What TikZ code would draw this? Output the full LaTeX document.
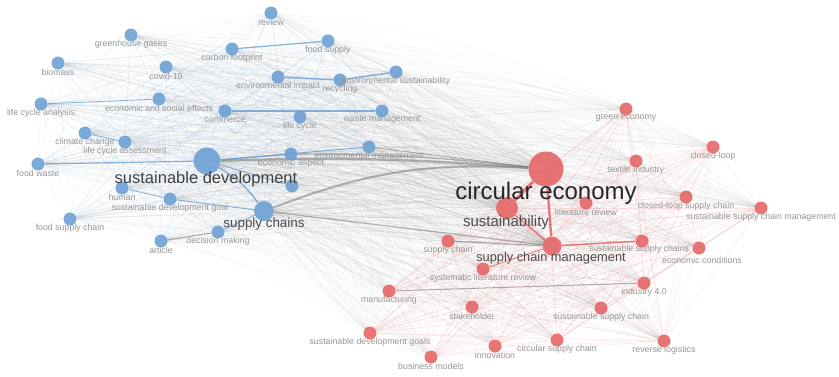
\documentclass[tikz,border=0pt]{standalone}
\usepackage{fontspec}
\setmainfont{Liberation Sans}
\usetikzlibrary{backgrounds}
\definecolor{bnode}{RGB}{100,155,210}
\definecolor{rnode}{RGB}{228,92,94}
\definecolor{lblc}{RGB}{150,150,150}
\definecolor{bedge}{RGB}{120,170,220}
\definecolor{redge}{RGB}{235,115,118}
\definecolor{gedge}{RGB}{120,120,120}
\pgfdeclarelayer{fg}
\pgfdeclarelayer{bottom}
\pgfsetlayers{bottom,background,main,fg}
\tikzset{
  bn/.style={circle,fill=bnode,fill opacity=0.85,draw=none,minimum size=13pt,inner sep=0pt},
  rn/.style={circle,fill=rnode,fill opacity=0.85,draw=none,minimum size=13pt,inner sep=0pt},
  lbl/.style={font=\fontsize{8.8}{10}\selectfont,text=lblc,inner sep=0pt},
  biglbl/.style={inner sep=0pt,text=#1},
  be/.style={draw=bedge,opacity=0.14,line width=0.4pt},
  re/.style={draw=redge,opacity=0.18,line width=0.4pt},
  xe/.style={draw=gedge,opacity=0.055,line width=0.4pt},
  xs/.style={draw=gedge,opacity=0.12,line width=0.6pt},
  thb/.style={draw=bnode,opacity=0.75},
  thr/.style={draw=rnode,opacity=0.8},
  thg/.style={draw=gedge,opacity=0.55},
}
\newcommand\kwb[4]{\node[bn] (#1) at (#2,#3) {};
  \begin{pgfonlayer}{fg}\node[lbl] (#1-l) at (#2,#3+9) {#4};\end{pgfonlayer}}
\newcommand\kwr[4]{\node[rn] (#1) at (#2,#3) {};
  \begin{pgfonlayer}{fg}\node[lbl] (#1-l) at (#2,#3+9) {#4};\end{pgfonlayer}}
\begin{document}
\begin{tikzpicture}[x=1pt,y=-1pt]
\begin{pgfonlayer}{bottom}
\fill[white] (0,0) rectangle (839,376);
\end{pgfonlayer}
\useasboundingbox (0,0) rectangle (839,376);
% ---------- blue cluster ----------
\kwb{review}{271}{13}{review}
\kwb{ghg}{131}{35}{greenhouse gases}
\kwb{cfp}{232}{49}{carbon footprint}
\kwb{fsup}{328}{41}{food supply}
\kwb{biomass}{58}{63}{biomass}
\kwb{covid}{166}{67}{covid-19}
\kwb{envimp}{278}{77}{environmental impact}
\kwb{recyc}{340}{80}{recycling}
\kwb{envsus}{396}{72}{environmental sustainability}
\kwb{lca}{41}{104}{life cycle analysis}
\kwb{ese}{159}{99}{economic and social effects}
\kwb{commerce}{225}{111}{commerce}
\kwb{lcyc}{300}{117}{life cycle}
\kwb{wastem}{382}{111}{waste management}
\kwb{climate}{85}{133}{climate change}
\kwb{lcass}{125}{142}{life cycle assessment}
\kwb{fwaste}{38}{164}{food waste}
\kwb{econasp}{291}{154}{economic aspect}
\kwb{envman}{369}{147}{environmental management}
\node[bn] (unl) at (292,186) {};
\kwb{human}{122}{188}{human}
\kwb{sdg}{170}{199}{sustainable development goal}
\kwb{fsc}{70}{219}{food supply chain}
\kwb{dm}{218}{232}{decision making}
\kwb{article}{161}{241}{article}
\node[bn,minimum size=27pt] (sd) at (207,161) {};
\node[bn,minimum size=20pt] (sc) at (264,211) {};
% ---------- red cluster ----------
\kwr{green}{626}{109}{green economy}
\kwr{closed}{713}{147}{closed-loop}
\kwr{textile}{636}{161}{textile industry}
\kwr{litrev}{586}{203}{literature review}
\kwr{clsc}{686}{197}{closed-loop supply chain}
\kwr{sscm}{761}{208}{sustainable supply chain management}
\kwr{supch}{448}{241}{supply chain}
\node[rn] (sscs) at (642,241) {};
\begin{pgfonlayer}{fg}\node[lbl] (sscs-l) at (639,249) {sustainable supply chains};\end{pgfonlayer}
\node[rn] (econcond) at (699,248) {};
\begin{pgfonlayer}{fg}\node[lbl] (econcond-l) at (702,260) {economic conditions};\end{pgfonlayer}
\kwr{slr}{483}{269}{systematic literature review}
\kwr{ind4}{644}{283}{industry 4.0}
\kwr{manuf}{389}{291}{manufacturing}
\kwr{stake}{472}{307}{stakeholder}
\kwr{ssc}{601}{308}{sustainable supply chain}
\kwr{sdgs}{370}{333}{sustainable development goals}
\kwr{innov}{495}{346}{innovation}
\kwr{csc}{557}{340}{circular supply chain}
\kwr{revlog}{664}{341}{reverse logistics}
\kwr{bizmod}{431}{357}{business models}
\node[rn,minimum size=35pt] (ce) at (546,169) {};
\node[rn,minimum size=22pt] (sust) at (507,208) {};
\node[rn,minimum size=19pt] (scm) at (552,246) {};
% ---------- big labels ----------
\begin{pgfonlayer}{fg}
\node[biglbl={black!85}, font=\fontsize{24}{26}\selectfont] (ce-l) at (546,193) {circular economy};
\node[biglbl={black!75}, font=\fontsize{16.5}{18}\selectfont] (sd-l) at (206,179) {sustainable development};
\node[biglbl={black!70}, font=\fontsize{13.4}{15}\selectfont] (sc-l) at (264,224) {supply chains};
\node[biglbl={black!70}, font=\fontsize{15}{17}\selectfont] (sust-l) at (506,223) {sustainability};
\node[biglbl={black!70}, font=\fontsize{12.8}{14}\selectfont] (scm-l) at (551,258) {supply chain management};
\end{pgfonlayer}
% ---------- edges ----------
\def\blist{review,ghg,cfp,fsup,biomass,covid,envimp,recyc,envsus,lca,ese,commerce,lcyc,wastem,climate,lcass,fwaste,sd,econasp,envman,unl,human,sdg,sc,fsc,dm,article}
\def\rlist{ce,sust,scm,green,closed,textile,litrev,clsc,sscm,supch,sscs,econcond,slr,ind4,manuf,stake,ssc,sdgs,innov,csc,revlog,bizmod}
\begin{pgfonlayer}{background}
\foreach \a [count=\i] in \blist {
  \foreach \b [count=\j] in \blist {
    \ifnum\j>\i \draw[be] (\a) -- (\b); \fi
  }
}
\foreach \a [count=\i] in \rlist {
  \foreach \b [count=\j] in \rlist {
    \ifnum\j>\i \draw[re] (\a) -- (\b); \fi
  }
}
\foreach \a in \blist {
  \foreach \b in \rlist {
    \draw[xe] (\a) to[bend left=10] (\b);
  }
  \draw[xs] (\a) to[bend left=6] (ce);
  \draw[xs] (\a) to[bend left=6] (scm);
  \draw[xs] (\a) to[bend left=6] (sust);
}
\foreach \b in \rlist {
  \draw[xs] (sd) to[bend left=6] (\b);
  \draw[xs] (sc) to[bend right=6] (\b);
}
% strong links
\draw[thg,line width=2.4pt] (sd) to[bend left=3] (ce);
\draw[thg,line width=1.2pt] (econasp) to[bend left=3] (ce);
\draw[thg,line width=1pt] (envman) -- (ce);
\draw[thg,line width=2pt] (sc) to[bend left=12] (ce);
\draw[thg,line width=1.2pt] (sc) -- (scm);
\draw[thr,line width=3pt] (ce) -- (sust);
\draw[thr,line width=2.4pt] (ce) -- (scm);
\draw[thr,line width=1.4pt] (sust) -- (scm);
\draw[thg,line width=1.2pt] (supch) -- (scm);
\draw[thr,line width=1.5pt] (scm) -- (sscs);
\draw[thg,line width=1pt] (manuf) -- (ind4);
\draw[thr,line width=0.8pt] (slr) -- (scm);
\draw[thb,line width=1.5pt] (envimp) -- (recyc);
\draw[thb,line width=1.5pt] (recyc) -- (envsus);
\draw[thb,line width=1.2pt] (commerce) -- (wastem);
\draw[thb,line width=1.2pt] (fwaste) -- (sd);
\draw[thb,line width=1.4pt] (sd) to[bend left=12] (sc);
\draw[thb,line width=1pt] (sd) -- (envman);
\draw[thb,line width=1pt] (sd) -- (econasp);
\draw[thb,line width=1.2pt] (cfp) -- (fsup);
\draw[thg,line width=1.2pt] (article) -- (dm);
\draw[thb,line width=1pt] (dm) -- (sc);
\draw[thb,line width=1pt] (sdg) -- (sc);
\draw[thb,line width=0.8pt] (human) -- (sdg);
\draw[thb,line width=0.8pt] (lca) -- (ese);
\draw[thb,line width=0.8pt] (climate) -- (lcass);
\draw[thb,line width=0.8pt] (sd) -- (unl);
\end{pgfonlayer}
\end{tikzpicture}
\end{document}
